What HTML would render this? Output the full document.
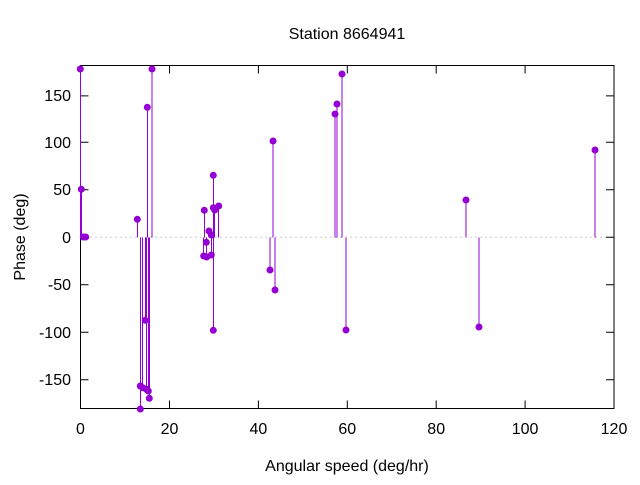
<!DOCTYPE html><html><head><style>body{margin:0;background:#fff}svg{font-family:"Liberation Sans","DejaVu Sans",sans-serif}</style></head><body>
<svg width="640" height="480" xmlns="http://www.w3.org/2000/svg">
<rect width="640" height="480" fill="#fff"/>
<text x="347" y="39" font-size="16" text-anchor="middle">Station 8664941</text>
<line x1="80.5" y1="237.3" x2="614" y2="237.3" stroke="#999" stroke-dasharray="1,4"/>
<g stroke="#000" stroke-width="1">
<rect x="80.5" y="65.5" width="533.5" height="343" fill="none"/>
<path d="M80.5 95.9h8M80.5 142.3h8M80.5 189.8h8M80.5 237.3h8M80.5 284.8h8M80.5 332.3h8M80.5 379.8h8M614 95.9h-8M614 142.3h-8M614 189.8h-8M614 237.3h-8M614 284.8h-8M614 332.3h-8M614 379.8h-8"/>
<path d="M169.5 408.5v-8M258.4 408.5v-8M347.3 408.5v-8M436.2 408.5v-8M525.1 408.5v-8M169.5 65.5v8M258.4 65.5v8M347.3 65.5v8M436.2 65.5v8M525.1 65.5v8"/>
</g>
<g font-size="16" text-anchor="end">
<text x="71" y="101">150</text><text x="71" y="148">100</text><text x="71" y="195">50</text><text x="71" y="243">0</text><text x="71" y="290">-50</text><text x="71" y="338">-100</text><text x="71" y="385">-150</text>
</g>
<g font-size="16" text-anchor="middle">
<text x="80.5" y="434">0</text><text x="169.5" y="434">20</text><text x="258.4" y="434">40</text><text x="347.3" y="434">60</text><text x="436.2" y="434">80</text><text x="525.1" y="434">100</text><text x="614" y="434">120</text>
<text x="347" y="471">Angular speed (deg/hr)</text>
<text transform="translate(25,237) rotate(-90)">Phase (deg)</text>
</g>
<g stroke="#9400d3" stroke-width="1" shape-rendering="crispEdges">
<path d="M80.3 237.3V69M81.3 237.3V189.3M137.3 237.3V219.3M140.3 237.3V409M142.7 237.3V387.7M145.3 237.3V320.3M147.3 237.3V107.3M146.3 237.3V389.3M148.3 237.3V391M149.3 237.3V398.3M152 237.3V69M204.3 237.3V210.3M203.7 237.3V256M206.7 237.3V257M206.3 237.3V242.3M209 237.3V231M211.3 237.3V255M213.3 237.3V175.3M213.3 237.3V330.3M214.7 237.3V210M218.7 237.3V206M270 237.3V270M273 237.3V141M275 237.3V290M335 237.3V114M337 237.3V104M342 237.3V74M346 237.3V330M466 237.3V200M479 237.3V327M595 237.3V150"/>
</g>
<g fill="#9400d3">
<circle cx="80.3" cy="69" r="3.5"/><circle cx="81.3" cy="189.3" r="3.5"/><circle cx="83.3" cy="237" r="3.5"/><circle cx="85.7" cy="237" r="3.5"/><circle cx="137.3" cy="219.3" r="3.5"/><circle cx="140.3" cy="386" r="3.5"/><circle cx="140.3" cy="409" r="3.5"/><circle cx="142.7" cy="387.7" r="3.5"/><circle cx="145.3" cy="320.3" r="3.5"/><circle cx="147.3" cy="107.3" r="3.5"/><circle cx="146.3" cy="389.3" r="3.5"/><circle cx="148.3" cy="391" r="3.5"/><circle cx="149.3" cy="398.3" r="3.5"/><circle cx="152" cy="69" r="3.5"/><circle cx="204.3" cy="210.3" r="3.5"/><circle cx="203.7" cy="256" r="3.5"/><circle cx="206.7" cy="257" r="3.5"/><circle cx="206.3" cy="242.3" r="3.5"/><circle cx="209" cy="231" r="3.5"/><circle cx="211.3" cy="235" r="3.5"/><circle cx="211.3" cy="255" r="3.5"/><circle cx="213.3" cy="175.3" r="3.5"/><circle cx="213.3" cy="330.3" r="3.5"/><circle cx="213.3" cy="207.7" r="3.5"/><circle cx="214.7" cy="210" r="3.5"/><circle cx="218.7" cy="206" r="3.5"/><circle cx="270" cy="270" r="3.5"/><circle cx="273" cy="141" r="3.5"/><circle cx="275" cy="290" r="3.5"/><circle cx="335" cy="114" r="3.5"/><circle cx="337" cy="104" r="3.5"/><circle cx="342" cy="74" r="3.5"/><circle cx="346" cy="330" r="3.5"/><circle cx="466" cy="200" r="3.5"/><circle cx="479" cy="327" r="3.5"/><circle cx="595" cy="150" r="3.5"/>
</g>
</svg></body></html>
